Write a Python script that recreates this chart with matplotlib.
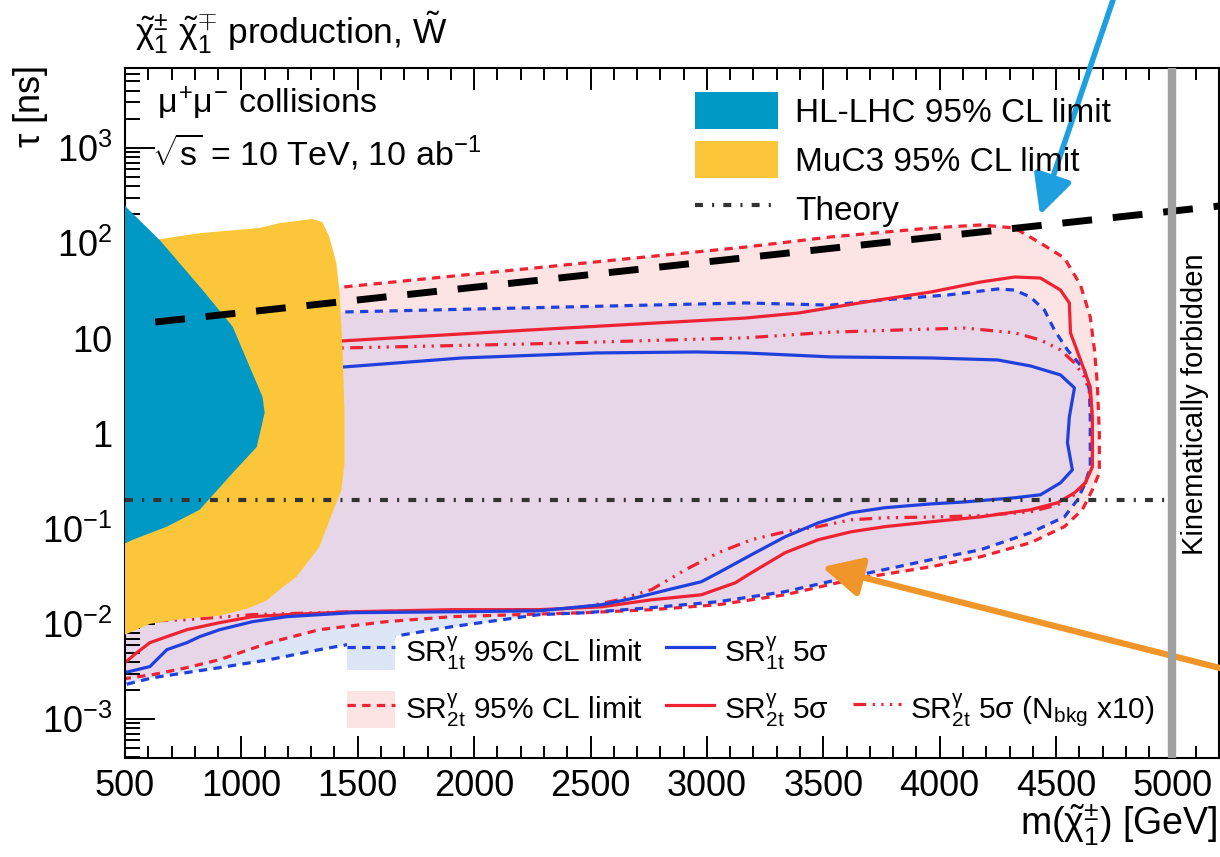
import matplotlib
matplotlib.use("Agg")
import matplotlib.pyplot as plt
from matplotlib.patches import Patch
from matplotlib.lines import Line2D
from matplotlib.ticker import FixedLocator, FixedFormatter, LogLocator, MultipleLocator, NullFormatter

plt.rcParams["font.family"] = ["Liberation Sans", "DejaVu Sans"]
plt.rcParams["mathtext.fontset"] = "custom"
plt.rcParams["mathtext.rm"] = "Liberation Sans"
plt.rcParams["mathtext.it"] = "Liberation Sans"
plt.rcParams["mathtext.bf"] = "Liberation Sans:bold"
plt.rcParams["mathtext.sf"] = "Liberation Sans"

# --- data (mass in GeV, lifetime in ns) ---
hllhc_m = [500, 509, 650, 834, 963, 1036, 1091, 1100, 1066, 963, 821, 680, 534, 500]
hllhc_tau = [250, 233, 107, 32, 13.2, 5.0, 2.42, 1.65, 0.72, 0.386, 0.158, 0.105, 0.0766, 0.07]

muc3_m = [500, 650, 821, 1078, 1164, 1305, 1348, 1378, 1408, 1421, 1434, 1443, 1443,
          1430, 1391, 1335, 1293, 1237, 1164, 1108, 1023, 907, 748, 607, 500]
muc3_tau = [105, 110, 127, 144, 162, 179, 166, 116, 61.6, 32.1, 8.11, 1.64, 0.492,
            0.256, 0.147, 0.0646, 0.0472, 0.0313, 0.0229, 0.0175, 0.0144, 0.0122, 0.0113, 0.0100, 0.0077]

sr2t_lim_m = [500, 1434, 3165, 3533, 3962, 4176, 4322, 4433, 4536, 4605, 4647, 4665, 4677, 4686,
              4686, 4656, 4613, 4536, 4390, 4176, 3962, 3619, 3336, 3049, 2762, 2479, 2192, 1905,
              1623, 1335, 1121, 907, 766, 620, 500]
sr2t_lim_tau = [20.3, 34.5, 90.8, 116, 144, 155, 144, 100, 69.6, 36.2, 16.7, 7.54, 3.40, 1.01,
                0.386, 0.256, 0.158, 0.105, 0.0711, 0.0507, 0.0398, 0.0291, 0.0202, 0.0159, 0.0141,
                0.0131, 0.0125, 0.0119, 0.01055, 0.00869, 0.00635, 0.00421, 0.00347, 0.00293, 0.00266]

sr1t_lim_m = [500, 1443, 3165, 3533, 3748, 4035, 4249, 4322, 4390, 4450, 4493, 4549, 4622, 4643,
              4647, 4647, 4626, 4592, 4536, 4390, 4176, 3962, 3619, 3336, 3049, 2762, 2479, 2278,
              1905, 1623, 1335, 1121, 907, 766, 620, 500]
sr1t_lim_tau = [16.7, 18.9, 23.5, 22.3, 25.2, 28.5, 32.9, 32.1, 27.1, 19.8, 12.2, 7.54, 4.65, 2.87,
                1.49, 0.447, 0.303, 0.201, 0.133, 0.0906, 0.0601, 0.0472, 0.0313, 0.0218, 0.0171,
                0.0148, 0.0131, 0.0125, 0.00935, 0.00717, 0.00536, 0.00421, 0.00347, 0.00308,
                0.00272, 0.00230]

sr2t_5s_m = [500, 1434, 2235, 3165, 3392, 3679, 3962, 4176, 4322, 4433, 4519, 4557, 4562, 4605,
             4647, 4656, 4656, 4626, 4579, 4506, 4390, 4176, 3962, 3765, 3619, 3478, 3336, 3191,
             3122, 2976, 2762, 2548, 2278, 1905, 1477, 1194, 1048, 907, 766, 680, 607, 551, 500]
sr2t_5s_tau = [6.84, 9.38, 12.2, 16.3, 18.4, 24.0, 30.6, 39.0, 44.0, 42.9, 32.1, 23.5, 11.4, 5.92,
               3.08, 1.49, 0.447, 0.303, 0.238, 0.187, 0.158, 0.133, 0.118, 0.105, 0.0927, 0.0765,
               0.0559, 0.0344, 0.0270, 0.0202, 0.0179, 0.0151, 0.0141, 0.0141, 0.0134, 0.0125,
               0.0119, 0.0103, 0.00869, 0.00734, 0.00635, 0.00499, 0.00392]

sr1t_5s_m = [500, 1443, 1948, 2522, 2951, 3165, 3533, 3962, 4249, 4390, 4519, 4579, 4557, 4549,
             4570, 4519, 4433, 4322, 4108, 3962, 3765, 3619, 3478, 3336, 3191, 3049, 2976, 2835,
             2694, 2548, 2278, 1905, 1477, 1194, 1048, 907, 821, 766, 680, 637, 607, 500]
sr1t_5s_tau = [3.83, 5.00, 6.21, 7.01, 7.18, 7.01, 6.37, 6.21, 5.92, 5.12, 4.12, 3.01, 1.49, 0.796,
               0.415, 0.303, 0.227, 0.211, 0.191, 0.182, 0.166, 0.147, 0.115, 0.0822, 0.0532,
               0.0344, 0.0277, 0.0229, 0.0188, 0.0159, 0.0137, 0.0134, 0.0131, 0.0119, 0.01055,
               0.00869, 0.00734, 0.00635, 0.00536, 0.00421, 0.00356, 0.00308]

sr2t_x10_m = [500, 1434, 2235, 3165, 3533, 3820, 4108, 4322, 4433, 4519, 4579, 4622, 4647, 4656,
              4656, 4626, 4579, 4506, 4390, 4176, 3992, 3765, 3619, 3478, 3336, 3191, 3049, 2908,
              2835, 2762, 2621, 2479, 2334, 2192, 1905, 1477, 1048, 766, 500]
sr2t_x10_tau = [7.18, 7.91, 8.71, 10.1, 11.6, 12.2, 12.8, 11.4, 9.60, 7.54, 5.51, 3.93, 2.54, 1.39,
                0.469, 0.303, 0.227, 0.178, 0.150, 0.137, 0.133, 0.130, 0.124, 0.105, 0.0927,
                0.0765, 0.0559, 0.0371, 0.0291, 0.0229, 0.0179, 0.0151, 0.0141, 0.0141, 0.0137,
                0.0134, 0.0125, 0.01106, 0.01055]

theory_m = [500, 4990]
theory_tau = [0.2, 0.2]

trend_m = [630, 5200]
trend_tau = [14.8, 245]

kin_limit = 5000

y_ticks = [1e-3, 1e-2, 1e-1, 1, 10, 1e2, 1e3]
y_labels = ["$10^{-3}$", "$10^{-2}$", "$10^{-1}$", "1", "10", "$10^{2}$", "$10^{3}$"]

# --- colours ---
HLLHC = "#0099c6"
MUC3 = "#fcc63a"
RED = "#ee2233"
BLUE = "#2040dd"
PINK = "#fde4e4"
LBLUE = "#dde6f7"
PURPLE = "#e7d6e7"
GREY = "#333333"

dash95 = (2.6, 2.0)
dashx10 = (4, 2, 0.7, 2, 0.7, 2, 0.7, 2)
dash_th = (1.9, 2.2, 0.5, 2.2)

fig = plt.figure(figsize=(12.2, 8.57), dpi=100)
ax = fig.add_axes([125 / 1220, 99 / 857, 1094 / 1220, 690 / 857])
ax.set_yscale("log")
ax.set_xlim(500, 5200)
ax.set_ylim(3.9e-4, 6.9e3)

# filled exclusion regions (opaque, overlap drawn explicitly)
pink = ax.fill(sr2t_lim_m, sr2t_lim_tau, color=PINK, lw=0, zorder=1)[0]
ax.fill(sr1t_lim_m, sr1t_lim_tau, color=LBLUE, lw=0, zorder=1.1)
overlap = ax.fill(sr1t_lim_m, sr1t_lim_tau, color=PURPLE, lw=0, zorder=1.2)[0]
overlap.set_clip_path(pink)

ax.plot(sr2t_lim_m, sr2t_lim_tau, color=RED, lw=2.3, dashes=dash95, zorder=2)
ax.plot(sr1t_lim_m, sr1t_lim_tau, color=BLUE, lw=2.3, dashes=dash95, zorder=2)
ax.plot(sr2t_x10_m, sr2t_x10_tau, color=RED, lw=2.3, dashes=dashx10, zorder=2)
ax.plot(sr2t_5s_m, sr2t_5s_tau, color=RED, lw=2.3, zorder=2.1)
ax.plot(sr1t_5s_m, sr1t_5s_tau, color=BLUE, lw=2.3, zorder=2.1)

ax.fill(muc3_m, muc3_tau, color=MUC3, lw=0, zorder=3)
ax.fill(hllhc_m, hllhc_tau, color=HLLHC, lw=0, zorder=3.5)

ax.plot(theory_m, theory_tau, color=GREY, lw=3, dashes=dash_th, zorder=4)
ax.plot(trend_m, trend_tau, color="black", lw=5, dashes=(4.3, 3.0), zorder=4)
ax.axvline(kin_limit, color="#a0a0a0", lw=6, zorder=4)

# axes styling (ROOT-like)
ax.xaxis.set_major_locator(MultipleLocator(500))
ax.xaxis.set_minor_locator(MultipleLocator(100))
ax.set_xticks([500, 1000, 1500, 2000, 2500, 3000, 3500, 4000, 4500, 5000])
ax.yaxis.set_major_locator(FixedLocator(y_ticks))
ax.yaxis.set_major_formatter(FixedFormatter(y_labels))
ax.yaxis.set_minor_locator(LogLocator(base=10, subs=range(2, 10), numticks=20))
ax.yaxis.set_minor_formatter(NullFormatter())
for s in ax.spines.values():
    s.set_linewidth(1.5)
ax.tick_params(which="both", direction="in", top=True, right=False, width=1.4, labelsize=26)
ax.tick_params(axis="x", which="major", length=16, pad=8)
ax.tick_params(axis="x", which="minor", length=8.5)
ax.tick_params(axis="y", which="major", length=21.6, pad=9)
ax.tick_params(axis="y", which="minor", length=10.8)

fig.text(30 / 1220, 1 - 66 / 857, r"$\tau$ [ns]", rotation=90, ha="center", va="top", fontsize=26)
fig.text(1218 / 1220, 1 - 836 / 857, r"m($\tilde{\chi}_{1}^{\pm}$) [GeV]", ha="right",
         va="baseline", fontsize=27)
fig.text(135 / 1220, 1 - 45 / 857, r"$\tilde{\chi}_{1}^{\pm}$ $\tilde{\chi}_{1}^{\mp}$ production, $\tilde{W}$",
         ha="left", va="baseline", fontsize=25.5)

ax.text(0.029, 0.935, r"$\mu^{+}\mu^{-}$ collisions", transform=ax.transAxes, fontsize=24.5,
        ha="left", va="baseline")
ax.text(0.025, 0.859, r"$\sqrt{s}$ = 10 TeV, 10 ab$^{-1}$", transform=ax.transAxes, fontsize=24.5,
        ha="left", va="baseline")
ax.text(5095, 2.05, "Kinematically forbidden", rotation=90, ha="center", va="center",
        fontsize=21, zorder=5)

# upper legend
top_handles = [Patch(facecolor=HLLHC, edgecolor="none"),
               Patch(facecolor=MUC3, edgecolor="none"),
               Line2D([], [], color=GREY, lw=3, dashes=dash_th)]
leg1 = ax.legend(top_handles, ["HL-LHC 95% CL limit", "MuC3 95% CL limit", "Theory"],
                 loc="upper left", bbox_to_anchor=(695 / 1220, 1 - 92 / 857),
                 bbox_transform=fig.transFigure, frameon=False, fontsize=24,
                 handlelength=2.5, handleheight=1.33, handletextpad=0.5,
                 labelspacing=0.37, borderpad=0, borderaxespad=0)
ax.add_artist(leg1)

# lower legend
h1t95 = (Patch(facecolor=LBLUE, edgecolor="none"), Line2D([], [], color=BLUE, lw=2.3, dashes=dash95))
h2t95 = (Patch(facecolor=PINK, edgecolor="none"), Line2D([], [], color=RED, lw=2.3, dashes=dash95))
h1t5 = Line2D([], [], color=BLUE, lw=2.3)
h2t5 = Line2D([], [], color=RED, lw=2.3)
blank = Line2D([], [], color="none")
h2tx10 = Line2D([], [], color=RED, lw=2.3, dashes=dashx10)
sr1t = r"SR$_{\mathregular{1t}}^{\gamma}$"
sr2t = r"SR$_{\mathregular{2t}}^{\gamma}$"
labels = [sr1t + " 95% CL limit", sr2t + " 95% CL limit", sr1t + r" 5$\sigma$", sr2t + r" 5$\sigma$",
          "", sr2t + r" 5$\sigma$ (N$_{\mathregular{bkg}}$ x10)"]
leg2 = ax.legend([h1t95, h2t95, h1t5, h2t5, blank, h2tx10], labels, ncol=3,
                 loc="upper left", bbox_to_anchor=(347 / 1220, 1 - 633 / 857),
                 bbox_transform=fig.transFigure, frameon=False, fontsize=21.5,
                 handlelength=1.6, handleheight=1.55, handletextpad=0.33,
                 labelspacing=0.65, columnspacing=0.8, borderpad=0, borderaxespad=0)

# highlight arrows
ax.annotate("", xy=(1040, 857 - 215), xycoords="figure pixels", xytext=(1113, 857),
            textcoords="figure pixels", annotation_clip=False,
            arrowprops=dict(arrowstyle="-|>,head_length=1.2,head_width=0.6", color="#1ea0e0",
                            lw=4, shrinkA=0, shrinkB=0, mutation_scale=20))
ax.annotate("", xy=(822, 857 - 567), xycoords="figure pixels", xytext=(1220, 857 - 668),
            textcoords="figure pixels", annotation_clip=False,
            arrowprops=dict(arrowstyle="-|>,head_length=1.2,head_width=0.6", color="#f0952a",
                            lw=4.5, shrinkA=0, shrinkB=0, mutation_scale=20))

fig.savefig("out.png", dpi=100)
